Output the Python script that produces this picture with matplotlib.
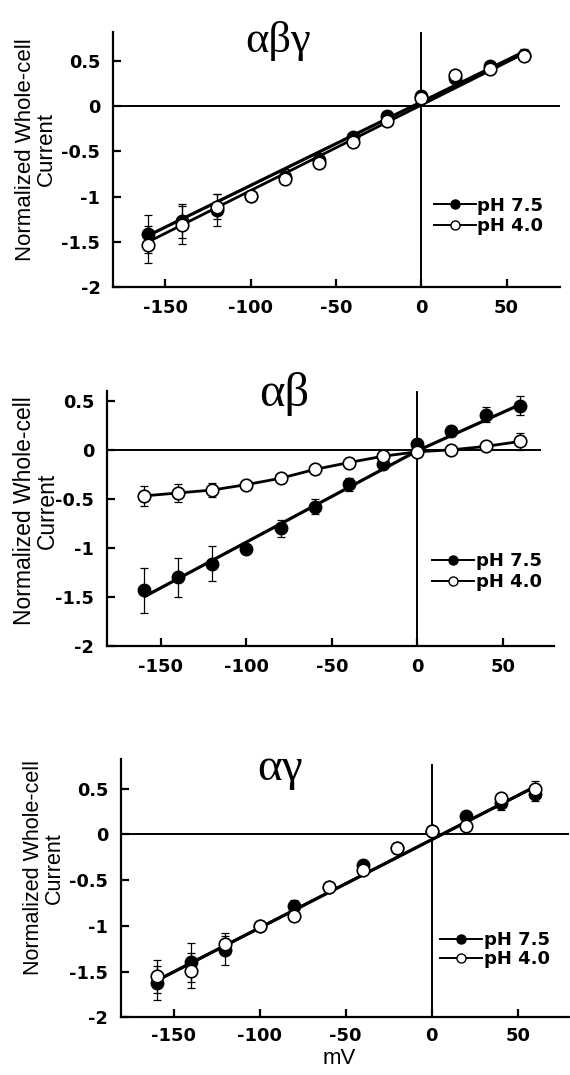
import matplotlib
matplotlib.use("Agg")
import matplotlib.pyplot as plt
from matplotlib.lines import Line2D

plt.rcParams['axes.unicode_minus'] = False

# ---------------- data ----------------
voltage = [-160, -140, -120, -100, -80, -60, -40, -20, 0, 20, 40, 60]

# alpha-beta-gamma
abg_ph75 = [-1.41, -1.27, -1.15, -0.99, -0.78, -0.59, -0.34, -0.11, 0.11, 0.31, 0.44, 0.57]
abg_ph75_err = [0.21, 0.19, 0.18, 0.03, 0.08, 0.07, 0.04, 0.04, 0.04, 0.04, 0.04, 0.06]
abg_ph40 = [-1.53, -1.31, -1.11, -0.99, -0.80, -0.63, -0.40, -0.16, 0.09, 0.34, 0.41, 0.56]
abg_ph40_err = [0.20, 0.21, 0.14, 0.03, 0.05, 0.05, 0.04, 0.04, 0.04, 0.04, 0.04, 0.06]
abg_fit_x = [-160, 60]
abg_fit_ph75 = [-1.43, 0.60]
abg_fit_ph40 = [-1.50, 0.58]

# alpha-beta
ab_ph75 = [-1.43, -1.30, -1.16, -1.01, -0.80, -0.58, -0.35, -0.14, 0.055, 0.19, 0.36, 0.45]
ab_ph75_err = [0.23, 0.20, 0.18, 0.03, 0.085, 0.075, 0.065, 0.04, 0.03, 0.05, 0.08, 0.10]
ab_ph40 = [-0.47, -0.44, -0.41, -0.355, -0.29, -0.20, -0.13, -0.065, -0.02, 0.0, 0.035, 0.085]
ab_ph40_err = [0.10, 0.09, 0.075, 0.03, 0.03, 0.03, 0.03, 0.03, 0.03, 0.03, 0.03, 0.09]
ab_fit_x = [-160, 0, 60]
ab_fit_ph75 = [-1.50, -0.01, 0.46]

# alpha-gamma
ag_ph75 = [-1.625, -1.40, -1.27, -1.00, -0.78, -0.58, -0.34, -0.15, 0.04, 0.20, 0.34, 0.435]
ag_ph75_err = [0.19, 0.21, 0.16, 0.03, 0.06, 0.03, 0.04, 0.03, 0.03, 0.03, 0.07, 0.07]
ag_ph40 = [-1.55, -1.49, -1.20, -1.00, -0.89, -0.58, -0.39, -0.155, 0.04, 0.09, 0.395, 0.49]
ag_ph40_err = [0.18, 0.19, 0.12, 0.03, 0.04, 0.03, 0.03, 0.03, 0.03, 0.03, 0.04, 0.09]
ag_fit_x = [-160, 60]
ag_fit_ph75 = [-1.60, 0.52]
ag_fit_ph40 = [-1.60, 0.52]

xticks = [-150, -100, -50, 0, 50]
xtick_labels = ['-150', '-100', '-50', '0', '50']
yticks = [-2, -1.5, -1, -0.5, 0, 0.5]
ytick_labels = ['-2', '-1.5', '-1', '-0.5', '0', '0.5']
legend_labels = ['pH 7.5', 'pH 4.0']
ylabel_text = 'Normalized Whole-cell\nCurrent'

# ---------------- figure ----------------
fig = plt.figure(figsize=(5.70, 10.75), dpi=100)

panels = [
    dict(rect=[0.1991, 0.7330, 0.7833, 0.2372], xlim=(-180.4, 81.3), ylim=(-2, 0.82),
         title='αβγ', title_xy=(-84, 0.60), title_size=32,
         f75=abg_ph75, e75=abg_ph75_err, f40=abg_ph40, e40=abg_ph40_err,
         fit_x=abg_fit_x, fit75=abg_fit_ph75, fit40_x=abg_fit_x, fit40=abg_fit_ph40,
         hline_end=None, vline_top=1.0,
         ylab_xy=(-0.174, 0.54), ylab_size=16,
         leg_xy=(0.718, 0.278), leg_spacing=0.15),
    dict(rect=[0.1882, 0.3991, 0.7846, 0.2372], xlim=(-181.4, 80.3), ylim=(-2, 0.60),
         title='αβ', title_xy=(-78, 0.446), title_size=35,
         f75=ab_ph75, e75=ab_ph75_err, f40=ab_ph40, e40=ab_ph40_err,
         fit_x=ab_fit_x, fit75=ab_fit_ph75, fit40_x=voltage, fit40=ab_ph40,
         hline_end=72, vline_top=1.0,
         ylab_xy=(-0.160, 0.53), ylab_size=16.5,
         leg_xy=(0.727, 0.292), leg_spacing=0.15),
    dict(rect=[0.2128, 0.0537, 0.7860, 0.2400], xlim=(-180.5, 80.0), ylim=(-2, 0.82),
         title='αγ', title_xy=(-88, 0.59), title_size=34,
         f75=ag_ph75, e75=ag_ph75_err, f40=ag_ph40, e40=ag_ph40_err,
         fit_x=ag_fit_x, fit75=ag_fit_ph75, fit40_x=ag_fit_x, fit40=ag_fit_ph40,
         hline_end=None, vline_top=0.977,
         ylab_xy=(-0.173, 0.58), ylab_size=15.5,
         leg_xy=(0.712, 0.262), leg_spacing=0.02),
]

bold_font = dict(family='DejaVu Sans', weight='bold')

for i, p in enumerate(panels):
    ax = fig.add_axes(p['rect'])
    ax.set_xlim(*p['xlim'])
    ax.set_ylim(*p['ylim'])
    for s in ['top', 'right']:
        ax.spines[s].set_visible(False)
    for s in ['left', 'bottom']:
        ax.spines[s].set_linewidth(1.6)

    # reference lines
    x0, x1 = p['xlim']
    xmax = 1.0 if p['hline_end'] is None else (p['hline_end'] - x0) / (x1 - x0)
    ax.axhline(0, xmin=0, xmax=xmax, color='k', lw=1.4, zorder=1)
    ax.axvline(0, ymin=0, ymax=p['vline_top'], color='k', lw=1.4, zorder=1)

    # fit / connecting lines
    ax.plot(p['fit40_x'], p['fit40'], color='k', lw=2.0, zorder=3, solid_capstyle='butt')
    ax.plot(p['fit_x'], p['fit75'], color='k', lw=2.3, zorder=3, solid_capstyle='butt')

    # error bars
    ax.errorbar(voltage, p['f75'], yerr=p['e75'], fmt='none', ecolor='k',
                elinewidth=0.9, capsize=3.2, capthick=0.9, zorder=2)
    ax.errorbar(voltage, p['f40'], yerr=p['e40'], fmt='none', ecolor='k',
                elinewidth=0.9, capsize=3.2, capthick=0.9, zorder=2)

    # markers
    ax.plot(voltage, p['f75'], linestyle='none', marker='o', ms=9,
            mfc='black', mec='black', mew=1.0, zorder=4)
    ax.plot(voltage, p['f40'], linestyle='none', marker='o', ms=9,
            mfc='white', mec='black', mew=1.2, zorder=5)

    # ticks
    ax.set_xticks(xticks)
    ax.set_xticklabels(xtick_labels, fontdict=dict(size=13, **bold_font))
    ax.set_yticks(yticks)
    ax.set_yticklabels(ytick_labels, fontdict=dict(size=12.8, **bold_font))
    ax.tick_params(axis='both', direction='in', length=5.5, width=1.6)
    ax.tick_params(axis='x', pad=8.5 if i < 2 else 7)
    ax.tick_params(axis='y', pad=9.5)

    # y label
    ax.set_ylabel(ylabel_text, family='Liberation Sans', fontsize=p['ylab_size'],
                  linespacing=1.0, va='center', ha='center', multialignment='center')
    ax.yaxis.set_label_coords(*p['ylab_xy'])

    # greek title
    ax.text(p['title_xy'][0], p['title_xy'][1], p['title'], family='Liberation Serif',
            fontsize=p['title_size'], ha='center', va='baseline', clip_on=False)

    # legend
    handles = [
        Line2D([], [], color='k', lw=1.4, marker='o', ms=6.5, mfc='black', mec='black'),
        Line2D([], [], color='k', lw=1.4, marker='o', ms=6.5, mfc='white', mec='black', mew=1.0),
    ]
    ax.legend(handles, legend_labels, loc='center left', bbox_to_anchor=p['leg_xy'],
              frameon=False, borderpad=0, borderaxespad=0, handlelength=2.3,
              handletextpad=0.1, labelspacing=p['leg_spacing'],
              prop=dict(family='DejaVu Sans', weight='bold', size=13))

    if i == 2:
        ax.set_xlabel('mV', family='Liberation Sans', fontsize=16, va='top')
        ax.xaxis.set_label_coords(0.487, -0.118)

fig.savefig('out.png', dpi=100)
